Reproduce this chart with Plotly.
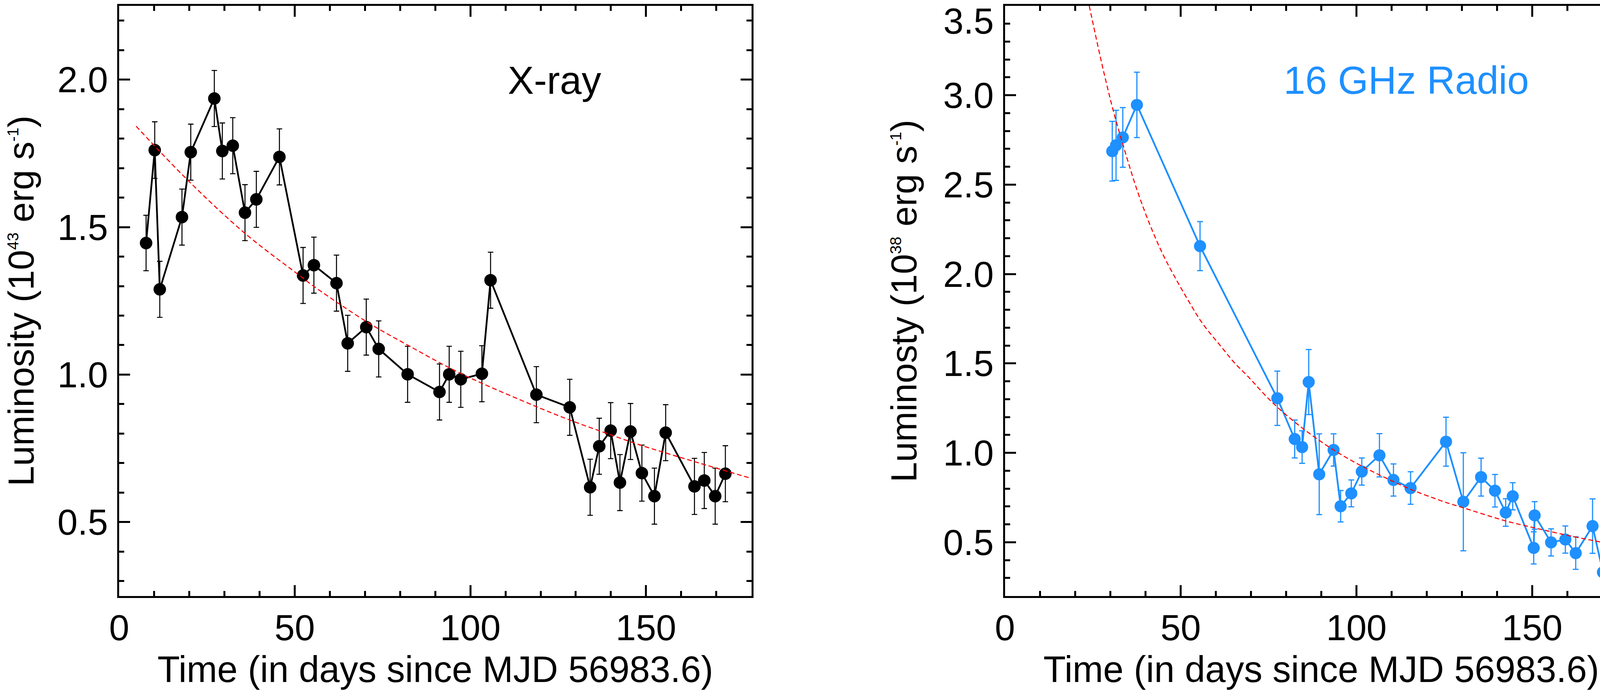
import plotly.graph_objects as go

# ---------------- data ----------------
xray_t = [7.67, 10.13, 11.57, 17.89, 20.39, 27.10, 29.38, 32.35, 35.83, 39.06,
          45.63, 52.37, 55.45, 61.88, 65.07, 70.36, 73.90, 82.13, 91.21, 93.97,
          97.27, 103.28, 105.75, 118.79, 128.29, 134.10, 136.69, 139.94, 142.58, 145.59,
          148.83, 152.40, 155.60, 163.80, 166.60, 169.70, 172.60]
xray_L = [1.446, 1.761, 1.289, 1.534, 1.754, 1.936, 1.758, 1.776, 1.549, 1.594,
          1.738, 1.336, 1.371, 1.310, 1.106, 1.161, 1.087, 1.001, 0.941, 1.001,
          0.984, 1.003, 1.320, 0.932, 0.889, 0.618, 0.757, 0.810, 0.634, 0.807,
          0.666, 0.588, 0.803, 0.621, 0.641, 0.588, 0.664]
xray_err = [0.094, 0.096, 0.095, 0.095, 0.095, 0.095, 0.095, 0.095, 0.095, 0.095,
            0.095, 0.095, 0.095, 0.095, 0.095, 0.095, 0.095, 0.095, 0.095, 0.095,
            0.095, 0.095, 0.095, 0.095, 0.095, 0.095, 0.095, 0.095, 0.095, 0.095,
            0.095, 0.095, 0.095, 0.095, 0.095, 0.095, 0.095]

xfit_t = [4.83, 19.46, 35.80, 52.37, 54.98, 70.36, 82.60, 97.04, 118.66, 128.29,
          139.94, 149.20, 180.00]
xfit_L = [1.842, 1.660, 1.479, 1.327, 1.303, 1.180, 1.097, 1.005, 0.892, 0.846,
          0.796, 0.758, 0.648]

radio_t = [30.54, 31.62, 33.54, 37.55, 55.51, 77.49, 82.44, 84.54, 86.42, 89.41,
           93.50, 95.50, 98.53, 101.52, 106.54, 110.53, 115.40, 125.48, 130.40, 135.45,
           139.40, 142.46, 144.45, 150.42, 150.68, 155.36, 159.42, 162.37, 167.16, 170.11]
radio_L = [2.687, 2.720, 2.764, 2.946, 2.156, 1.305, 1.077, 1.032, 1.396, 0.880,
           1.016, 0.701, 0.773, 0.895, 0.986, 0.848, 0.803, 1.062, 0.726, 0.864,
           0.788, 0.666, 0.757, 0.468, 0.650, 0.499, 0.515, 0.439, 0.590, 0.332]
radio_err = [0.167, 0.196, 0.167, 0.183, 0.137, 0.152, 0.106, 0.091, 0.182, 0.226,
             0.090, 0.088, 0.075, 0.076, 0.121, 0.090, 0.091, 0.137, 0.274, 0.106,
             0.091, 0.077, 0.076, 0.090, 0.077, 0.076, 0.076, 0.091, 0.152, 0.136]

rfit_t = [24.00, 27.00, 29.25, 31.06, 33.95, 37.64, 41.33, 45.02, 48.71, 52.40,
          56.09, 61.63, 65.32, 69.00, 76.00, 84.50, 93.50, 101.10, 108.50, 115.40,
          125.10, 130.46, 142.46, 150.68, 159.42, 167.16, 180.00]
rfit_L = [3.500, 3.227, 3.037, 2.897, 2.700, 2.467, 2.272, 2.107, 1.970, 1.844,
          1.727, 1.591, 1.503, 1.430, 1.283, 1.140, 1.016, 0.930, 0.858, 0.796,
          0.725, 0.692, 0.619, 0.580, 0.541, 0.510, 0.463]

x_ticks = [0, 50, 100, 150]
x_ticktext = ["0", "50", "100", "150"]
y1_ticks = [0.5, 1.0, 1.5, 2.0]
y1_ticktext = ["0.5", "1.0", "1.5", "2.0"]
y2_ticks = [0.5, 1.0, 1.5, 2.0, 2.5, 3.0, 3.5]
y2_ticktext = ["0.5", "1.0", "1.5", "2.0", "2.5", "3.0", "3.5"]

# ---------------- styling ----------------
W, H = 4200, 1768
FONT = "Liberation Sans, Arial, Helvetica, sans-serif"
BLUE = "#1E90FF"
RED = "#FF0000"

fig = go.Figure()

fig.add_trace(go.Scatter(
    x=xray_t, y=xray_L, mode="lines+markers",
    line=dict(color="black", width=4.5),
    marker=dict(color="black", size=32),
    error_y=dict(type="data", array=xray_err, visible=True,
                 color="black", thickness=2.6, width=7),
    xaxis="x", yaxis="y", showlegend=False, hoverinfo="skip"))
fig.add_trace(go.Scatter(
    x=xfit_t, y=xfit_L, mode="lines",
    line=dict(color=RED, width=2.7, dash="12px,7px", shape="spline"),
    xaxis="x", yaxis="y", showlegend=False, hoverinfo="skip"))

fig.add_trace(go.Scatter(
    x=radio_t, y=radio_L, mode="lines+markers",
    line=dict(color=BLUE, width=4.5),
    marker=dict(color=BLUE, size=31),
    error_y=dict(type="data", array=radio_err, visible=True,
                 color=BLUE, thickness=3, width=7.5),
    xaxis="x2", yaxis="y2", showlegend=False, hoverinfo="skip"))
fig.add_trace(go.Scatter(
    x=rfit_t, y=rfit_L, mode="lines",
    line=dict(color=RED, width=2.7, dash="12px,7px", shape="spline"),
    xaxis="x2", yaxis="y2", showlegend=False, hoverinfo="skip"))

axis_common = dict(
    showline=True, linecolor="black", linewidth=5, mirror="ticks",
    ticks="inside", ticklen=28, tickwidth=5, tickcolor="black",
    showgrid=False, zeroline=False, automargin=False,
    tickfont=dict(family=FONT, size=93, color="black"),
)
xminor = dict(dtick=10, tick0=0, ticks="inside", ticklen=13, tickwidth=5,
              tickcolor="black", showgrid=False)
yminor = dict(dtick=0.1, tick0=0.5, ticks="inside", ticklen=13, tickwidth=5,
              tickcolor="black", showgrid=False)

xdom1 = [305 / W, 1923.5 / W]
xdom2 = [2572.5 / W, 4192.5 / W]
ydom = [(H - 1524.5) / H, (H - 15) / H]

xtitle = "Time (in days since MJD 56983.6)"
TFS = 94
SUP = "<sup><span style='font-size:40px'>{}</span></sup>"


def px(x):
    return x / W


def py(y):
    return (H - y) / H


fig.update_layout(
    width=W, height=H,
    margin=dict(l=0, r=0, t=0, b=0),
    paper_bgcolor="white", plot_bgcolor="white",
    font=dict(family=FONT, color="black"),
    xaxis=dict(domain=xdom1, range=[0, 180], anchor="y",
               tickvals=x_ticks, ticktext=x_ticktext, minor=xminor,
               ticklabelstandoff=-3, **axis_common),
    yaxis=dict(domain=ydom, range=[0.25, 2.25], anchor="x",
               tickvals=y1_ticks, ticktext=y1_ticktext, minor=yminor,
               ticklabelstandoff=5, **axis_common),
    xaxis2=dict(domain=xdom2, range=[0, 180], anchor="y2",
                tickvals=x_ticks, ticktext=x_ticktext, minor=xminor,
                ticklabelstandoff=-3, **axis_common),
    # the top label (3.5) sits against the figure edge, so it is placed as a
    # separate text below; the remaining labels come from the axis itself
    yaxis2=dict(domain=ydom, range=[0.2, 3.5], anchor="x2",
                tickvals=y2_ticks[:-1], ticktext=y2_ticktext[:-1], minor=yminor,
                ticklabelstandoff=5, **axis_common),
    annotations=[
        dict(text=xtitle, xref="paper", yref="paper", x=px(1114), y=py(1767),
             xanchor="center", yanchor="bottom", showarrow=False,
             font=dict(family=FONT, size=TFS, color="black")),
        dict(text=xtitle, xref="paper", yref="paper", x=px(3382.5), y=py(1767),
             xanchor="center", yanchor="bottom", showarrow=False,
             font=dict(family=FONT, size=TFS, color="black")),
        dict(text="Luminosity (10" + SUP.format("43") + " erg s" + SUP.format("-1") + ")",
             xref="paper", yref="paper", x=px(108), y=py(770),
             xanchor="right", yanchor="middle", textangle=-90, showarrow=False,
             font=dict(family=FONT, size=93, color="black")),
        dict(text="Luminosty (10" + SUP.format("38") + " erg s" + SUP.format("-1") + ")",
             xref="paper", yref="paper", x=px(2368), y=py(770),
             xanchor="right", yanchor="middle", textangle=-90, showarrow=False,
             font=dict(family=FONT, size=93, color="black")),
        dict(text=y2_ticktext[-1], xref="paper", yref="paper",
             x=px(2546), y=py(0), xanchor="right", yanchor="top",
             showarrow=False, font=dict(family=FONT, size=93, color="black")),
        dict(text="X-ray", xref="paper", yref="paper",
             x=px(1298), y=py(263), xanchor="left", yanchor="bottom",
             showarrow=False, font=dict(family=FONT, size=100, color="black")),
        dict(text="16 GHz Radio", xref="paper", yref="paper",
             x=px(3284), y=py(263), xanchor="left", yanchor="bottom",
             showarrow=False, font=dict(family=FONT, size=100, color=BLUE)),
    ],
)

fig.write_html("out.html", config={"displayModeBar": False},
               post_script="document.body.style.margin='0px';")
